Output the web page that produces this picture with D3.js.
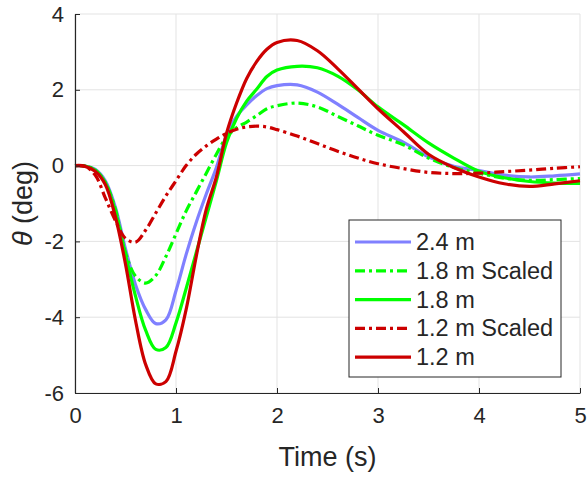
<!DOCTYPE html>
<html>
<head>
<meta charset="utf-8">
<script src="https://cdn.jsdelivr.net/npm/d3@7"></script>
<style>
  body { margin: 0; background: #fff; }
  text { font-family: "Liberation Sans", Arial, Helvetica, sans-serif; fill: #262626; }
</style>
</head>
<body>
<div id="wrapper"></div>
<script>
// time samples (s)
const time = [0, 0.1, 0.2, 0.3, 0.4, 0.5, 0.6, 0.7, 0.8, 0.9, 1.0, 1.1, 1.2, 1.3, 1.4, 1.5, 1.6, 1.7, 1.8, 1.9, 2.0, 2.2, 2.4, 2.6, 2.8, 3.0, 3.25, 3.5, 3.75, 4.0, 4.25, 4.5, 4.75, 5.0];

// theta (deg)
const theta24 = [0, -0.01, -0.1, -0.4, -1.1, -2.2, -3.15, -3.8, -4.17, -4.07, -3.3, -2.35, -1.5, -0.75, -0.05, 0.8, 1.3, 1.6, 1.85, 2.03, 2.11, 2.13, 1.94, 1.62, 1.27, 0.93, 0.62, 0.23, -0.02, -0.13, -0.25, -0.3, -0.27, -0.22];
const theta18s = [0, -0.01, -0.12, -0.45, -1.15, -2.3, -2.92, -3.1, -2.9, -2.4, -1.8, -1.2, -0.7, -0.2, 0.3, 0.75, 1.0, 1.15, 1.32, 1.5, 1.58, 1.65, 1.55, 1.3, 1.05, 0.8, 0.55, 0.2, -0.05, -0.2, -0.33, -0.39, -0.37, -0.34];
const theta18 = [0, -0.01, -0.12, -0.45, -1.2, -2.35, -3.45, -4.35, -4.85, -4.8, -4.15, -3.25, -2.3, -1.35, -0.4, 0.6, 1.25, 1.7, 2.02, 2.35, 2.52, 2.62, 2.58, 2.36, 2.0, 1.55, 1.08, 0.6, 0.2, -0.15, -0.32, -0.42, -0.46, -0.47];
const theta12s = [0, -0.02, -0.25, -0.85, -1.45, -1.92, -2.02, -1.7, -1.25, -0.8, -0.4, 0, 0.3, 0.52, 0.7, 0.85, 0.96, 1.02, 1.04, 1.02, 0.95, 0.78, 0.58, 0.38, 0.2, 0.05, -0.08, -0.18, -0.21, -0.2, -0.16, -0.12, -0.07, -0.03];
const theta12 = [0, -0.02, -0.15, -0.5, -1.35, -2.6, -4.1, -5.25, -5.76, -5.7, -4.9, -3.8, -2.4, -1.15, -0.3, 0.85, 1.65, 2.3, 2.75, 3.07, 3.25, 3.3, 3.03, 2.56, 2.03, 1.5, 0.9, 0.3, -0.05, -0.3, -0.48, -0.55, -0.48, -0.4];

const seriesNames = ["2.4 m", "1.8 m Scaled", "1.8 m", "1.2 m Scaled", "1.2 m"];
const seriesValues = [theta24, theta18s, theta18, theta12s, theta12];
const seriesColors = ["#8080ff", "#00ff00", "#00ff00", "#cc0000", "#cc0000"];
const seriesDashed = [false, true, false, true, false];

const xTicks = [0, 1, 2, 3, 4, 5];
const yTicks = [-6, -4, -2, 0, 2, 4];

var dimension = {
    width: 587,
    height: 479,
    margin: { top: 14, left: 75, bottom: 86, right: 7 }
};
dimension.boundedWidth = dimension.width - dimension.margin.left - dimension.margin.right;
dimension.boundedHeight = dimension.height - dimension.margin.top - dimension.margin.bottom;

const svg = d3.select("#wrapper").append("svg")
    .attr("width", dimension.width)
    .attr("height", dimension.height);

const bounded = svg.append("g")
    .attr("transform", `translate(${dimension.margin.left},${dimension.margin.top})`);

const xScaler = d3.scaleLinear().domain([0, 5]).range([0, dimension.boundedWidth]);
const yScaler = d3.scaleLinear().domain([-6, 4]).range([dimension.boundedHeight, 0]);

// grid
bounded.append("g").selectAll("line").data(xTicks).join("line")
    .attr("x1", d => xScaler(d)).attr("x2", d => xScaler(d))
    .attr("y1", 0).attr("y2", dimension.boundedHeight)
    .attr("stroke", "#e3e3e3").attr("stroke-width", 1);
bounded.append("g").selectAll("line").data(yTicks).join("line")
    .attr("y1", d => yScaler(d)).attr("y2", d => yScaler(d))
    .attr("x1", 0).attr("x2", dimension.boundedWidth)
    .attr("stroke", "#e3e3e3").attr("stroke-width", 1);

// lines
const lineGenerator = d3.line()
    .x((d, i) => xScaler(time[i]))
    .y(d => yScaler(d))
    .curve(d3.curveCatmullRom.alpha(0.5));

seriesValues.forEach((vals, k) => {
    bounded.append("path")
        .attr("d", lineGenerator(vals))
        .attr("fill", "none")
        .attr("stroke", seriesColors[k])
        .attr("stroke-width", 3.2)
        .attr("stroke-dasharray", seriesDashed[k] ? "10,4,3,4" : null);
});

// axes
var xAxis = d3.axisBottom(xScaler).tickValues(xTicks).tickFormat(d => String(d))
    .tickSizeInner(-5).tickSizeOuter(0).tickPadding(14);
var yAxis = d3.axisLeft(yScaler).tickValues(yTicks).tickFormat(d => String(d))
    .tickSizeInner(-5).tickSizeOuter(0).tickPadding(11);

const gx = bounded.append("g")
    .attr("transform", `translate(0,${dimension.boundedHeight})`)
    .call(xAxis);
const gy = bounded.append("g").call(yAxis);

[gx, gy].forEach(g => {
    g.select(".domain").attr("stroke", "#262626").attr("stroke-width", 1.2);
    g.selectAll(".tick line").attr("stroke", "#262626");
    g.selectAll(".tick text").style("font-size", "22px").attr("fill", "#262626");
});

// axis labels
svg.append("text")
    .attr("x", dimension.margin.left + dimension.boundedWidth / 2)
    .attr("y", 466)
    .attr("text-anchor", "middle")
    .style("font-size", "27px")
    .text("Time (s)");

const yLabel = svg.append("text")
    .attr("text-anchor", "middle")
    .attr("transform", `translate(32,${dimension.margin.top + dimension.boundedHeight / 2})rotate(-90)`)
    .style("font-size", "27px");
yLabel.append("tspan").style("font-style", "italic").text("θ");
yLabel.append("tspan").text(" (deg)");

// legend
const legend = svg.append("g").attr("transform", "translate(349,220)");
legend.append("rect")
    .attr("width", 212).attr("height", 157)
    .attr("fill", "#fff").attr("stroke", "#262626").attr("stroke-width", 1);

seriesNames.forEach((name, k) => {
    const y = 22 + k * 28.8;
    legend.append("line")
        .attr("x1", 6).attr("x2", 62)
        .attr("y1", y).attr("y2", y)
        .attr("stroke", seriesColors[k])
        .attr("stroke-width", 3.2)
        .attr("stroke-dasharray", seriesDashed[k] ? "10,4,3,4" : null);
    legend.append("text")
        .attr("x", 67).attr("y", y + 8)
        .style("font-size", "23.5px")
        .attr("fill", "#000")
        .text(name);
});
</script>
</body>
</html>
